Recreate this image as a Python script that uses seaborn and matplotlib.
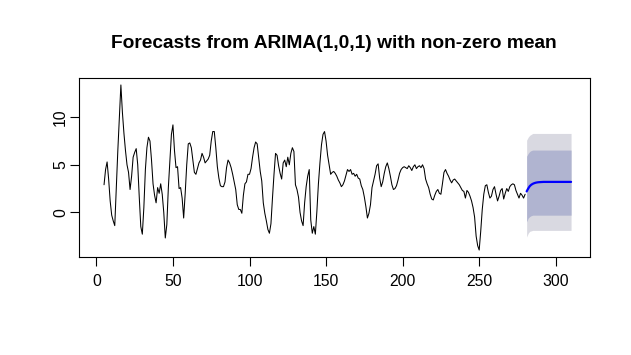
import numpy as np
import pandas as pd
import matplotlib
matplotlib.use("Agg")
import matplotlib.pyplot as plt
import seaborn as sns

obs_t = list(range(5, 281))
obs_y = [
    2.9, 4.5, 5.3, 3.5, 1.2, -0.3, -0.9, -1.4, 2.5, 6.5,
    10.0, 13.4, 10.5, 8.3, 6.5, 5.0, 4.2, 2.4, 3.8, 5.8,
    6.3, 6.7, 5.0, 1.6, -1.5, -2.3, 0.5, 4.5, 6.8, 7.9,
    7.5, 5.5, 3.0, 1.8, 1.0, 2.6, 2.0, 3.0, 1.9, 0.0,
    -2.7, -1.3, 2.6, 5.4, 8.2, 9.2, 6.5, 4.7, 4.8, 2.5,
    2.6, 1.5, -0.6, 2.0, 5.0, 7.2, 7.3, 6.8, 5.5, 4.2,
    4.0, 4.6, 5.2, 5.5, 6.2, 5.8, 5.2, 5.4, 5.6, 6.0,
    7.5, 8.5, 8.5, 6.8, 4.8, 3.6, 2.8, 2.7, 2.7, 3.2,
    4.7, 5.5, 5.2, 4.7, 4.0, 3.2, 2.4, 0.8, 0.3, 0.3,
    -0.1, 1.8, 3.0, 3.2, 4.0, 4.0, 4.6, 5.8, 6.8, 7.4,
    7.2, 5.8, 4.3, 3.3, 1.0, -0.1, -0.9, -1.8, -2.2, -1.2,
    1.5, 4.0, 6.2, 6.0, 4.9, 4.1, 3.5, 5.2, 5.5, 4.8,
    5.8, 5.0, 6.2, 6.8, 6.4, 2.9, 2.4, 1.6, 0.0, -0.9,
    -1.4, 1.0, 2.7, 3.8, 4.5, -0.8, -2.2, -1.5, -2.3, 0.1,
    3.0, 5.2, 7.1, 8.2, 8.5, 7.5, 6.0, 5.0, 4.0, 4.2,
    4.3, 4.1, 3.8, 3.4, 3.1, 2.7, 2.9, 3.3, 3.9, 4.5,
    4.3, 4.5, 4.0, 4.1, 3.8, 4.0, 3.6, 3.5, 2.8, 2.4,
    1.6, 0.6, -0.6, -0.1, 0.8, 2.6, 3.3, 4.0, 4.9, 5.1,
    3.6, 2.7, 3.2, 4.1, 4.8, 5.2, 4.6, 3.8, 2.9, 2.4,
    2.5, 2.8, 3.4, 4.1, 4.5, 4.7, 4.8, 4.7, 4.6, 4.9,
    4.7, 4.4, 4.8, 5.0, 4.6, 4.8, 4.9, 4.7, 5.0, 4.6,
    3.5, 3.0, 2.6, 1.9, 1.4, 1.3, 1.8, 2.2, 2.4, 2.0,
    1.9, 3.0, 4.2, 4.5, 4.1, 3.8, 3.4, 3.1, 3.4, 3.5,
    3.3, 3.1, 2.9, 2.6, 2.3, 2.2, 1.5, 2.3, 2.1, 1.7,
    1.2, 0.5, -0.5, -2.5, -3.5, -3.97, -2.0, 0.3, 1.9, 2.8,
    2.9, 2.1, 1.5, 1.7, 2.4, 2.7, 1.9, 1.2, 1.7, 2.3,
    2.5, 1.4, 2.0, 2.5, 2.2, 2.7, 2.9, 3.0, 2.9, 2.3,
    1.9, 1.5, 2.0, 1.8, 1.5, 1.9,
]

# forecasts (t = 281..310) and prediction intervals
fc_t = list(range(281, 311))
fc_mean = [2.2, 2.5, 2.75, 2.9, 3.0, 3.07, 3.12, 3.15, 3.17, 3.18,
           3.19, 3.2, 3.2, 3.2, 3.2, 3.2, 3.2, 3.2, 3.2, 3.2,
           3.2, 3.2, 3.2, 3.2, 3.2, 3.2, 3.2, 3.2, 3.2, 3.2]
lo80 = [-1.0, -0.6, -0.45, -0.35, -0.3] + [-0.3] * 25
hi80 = [5.9, 6.2, 6.4, 6.5, 6.55] + [6.55] * 25
lo95 = [-2.6, -2.2, -2.0, -1.95, -1.9] + [-1.9] * 25
hi95 = [7.6, 7.9, 8.1, 8.2, 8.3] + [8.3] * 25

title = "Forecasts from ARIMA(1,0,1) with non-zero mean"

sns.set_style("white")
plt.rcParams['font.family'] = ['Liberation Sans', 'DejaVu Sans']

fig = plt.figure(figsize=(6.31, 3.55), dpi=100)
ax = fig.add_axes([0.1246, 0.2769, 0.8105, 0.5025])

# 95% and 80% prediction intervals
ax.fill_between(fc_t, lo95, hi95, color="#D9D9E1", linewidth=0)
ax.fill_between(fc_t, lo80, hi80, color="#B0B4D0", linewidth=0)

obs = pd.DataFrame({"t": obs_t, "y": obs_y})
fc = pd.DataFrame({"t": fc_t, "y": fc_mean})
sns.lineplot(data=obs, x="t", y="y", ax=ax, color="black", linewidth=0.75)
sns.lineplot(data=fc, x="t", y="y", ax=ax, color="#0000FF", linewidth=1.6)

ax.set_xlim(-11.6, 322.4)
ax.set_ylim(-4.67, 14.1)
ax.set_xticks([0, 50, 100, 150, 200, 250, 300])
ax.set_yticks([0, 5, 10])
ax.set_xlabel("")
ax.set_ylabel("")
for s in ax.spines.values():
    s.set_linewidth(0.8)
    s.set_color("black")
ax.tick_params(direction="out", length=6.5, width=0.8, color="black",
               labelsize=11.3, labelcolor="black", bottom=True, left=True)
ax.tick_params(axis="x", pad=6)
ax.tick_params(axis="y", pad=1)
for lab in ax.get_yticklabels():
    lab.set_rotation(90)
    lab.set_va("center")

fig.text(0.5293, 0.877, title, ha="center", va="center",
         fontsize=13.8, fontweight="bold", color="black")

fig.savefig("out.png", dpi=100)
